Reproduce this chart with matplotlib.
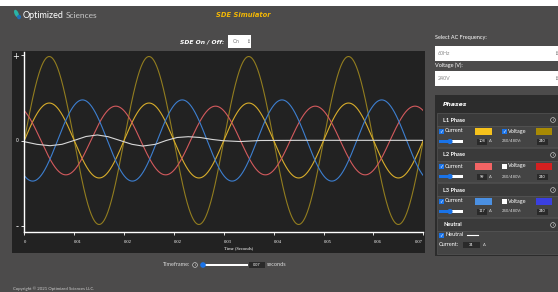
import numpy as np
import matplotlib.pyplot as plt
from matplotlib.patches import Rectangle, Circle, Ellipse

W, H = 558, 292

# waveform settings (60 Hz, peaks in A / V)
freq_hz = 60
series_names = ["L1 Voltage", "L1 Current", "L2 Current", "L3 Current"]
series_peaks = [242, 108, 99, 117]
series_phase_deg = [0, 0, -240, -120]
series_colors = ["#927d1f", "#d8ad2b", "#d35a5d", "#3d7fd0"]

# neutral trace, read point by point
neutral_t = [0.0, 0.0021, 0.0043, 0.0063, 0.0083, 0.0103, 0.0122, 0.0140, 0.0160,
             0.0180, 0.0198, 0.0219, 0.0237, 0.0255, 0.0274, 0.0294, 0.0314,
             0.0332, 0.0361, 0.0394, 0.0461, 0.0667]
neutral_v = [-3.5, -11, -15, -11, 0, 11.5, 16, 11, 0, -11, -16, -11, 0, 8.6, 11,
             8.6, 3, -0.6, -3, 0, 0.5, 0.5]

x_tick_labels = ["0", "0.01", "0.02", "0.02", "0.03", "0.04", "0.05", "0.06", "0.07"]
y_tick_labels = ["-", "0", "+"]
y_tick_vals = [-245, 0, 245]

# side panel values
phase_labels = ["L1 Phase", "L2 Phase", "L3 Phase"]
phase_currents = ["108", "99", "117"]
voltage_on = [True, False, False]
current_swatch = ["#f6c21c", "#f26464", "#4b90e2"]
voltage_swatch = ["#a88a04", "#d42020", "#3a3fe0"]
neutral_current = "34"

BG = "#4c4b4b"
BLUE = "#1a73e8"

fig = plt.figure(figsize=(W / 100, H / 100), dpi=100)
fig.patch.set_facecolor(BG)
ui = fig.add_axes([0, 0, 1, 1])
ui.set_xlim(0, W)
ui.set_ylim(H, 0)
ui.axis("off")


def box(x0, y0, x1, y1, color, ec="none", lw=0, z=1):
    ui.add_patch(Rectangle((x0, y0), x1 - x0, y1 - y0, facecolor=color,
                           edgecolor=ec, linewidth=lw, zorder=z))


def txt(x, y, s, size=4, color="white", ha="left", weight="normal",
        style="normal", family="Lato", z=5):
    ui.text(x, y, s, fontsize=size, color=color, ha=ha, va="center",
            fontweight=weight, fontstyle=style, family=[family, "DejaVu Sans"], zorder=z)


def checkbox(x, y, on):
    box(x, y - 2.5, x + 5, y + 2.5, BLUE if on else "white", z=3)
    if on:
        txt(x + 2.5, y, "\u2713", size=3.5, ha="center", family="DejaVu Sans")


def info(x, y):
    ui.add_patch(Circle((x, y), 2.4, facecolor="none", edgecolor="#dddddd",
                        linewidth=0.4, zorder=4))
    txt(x, y, "i", size=2.8, color="#dddddd", ha="center")


def valbox(x0, x1, y, s):
    box(x0, y - 3, x1, y + 3, "#2a2a2a", z=3)
    txt((x0 + x1) / 2, y, s, size=2.8, ha="center")


# header
box(0, 0, W, 6, "white")
ui.add_patch(Ellipse((16.5, 13.5), 4, 8, angle=-25, facecolor="#2ab3a6", zorder=3))
ui.add_patch(Ellipse((19, 17), 4, 4.5, facecolor="#1f6fb8", zorder=3))
txt(23, 15, "Optimized", size=6.5, color="white")
txt(65.5, 15, "Sciences", size=6.0, color="#c8c8c8")
txt(243, 15, "SDE Simulator", size=4.9, color="#f2b705", ha="center",
    weight="bold", style="italic", family="DejaVu Sans")
txt(224, 42, "SDE On / Off:", size=4.3, ha="right", weight="bold", style="italic",
    family="DejaVu Sans")
box(228, 35, 251, 48, "white")
txt(233, 41.5, "On", size=3.6, color="#777777")
txt(246, 41.5, "\u2195", size=3.4, color="#555555", family="DejaVu Sans")

# chart panel
box(12, 51, 425, 253, "#222222")

ax = fig.add_axes([24.3 / W, 1 - 232 / H, (423.3 - 24.3) / W, 180 / H])
ax.set_zorder(2)
ax.patch.set_alpha(0)
px_per_unit = 0.347
ax.set_xlim(0, 8 / 120)
ax.set_ylim(-(232 - 140.5) / px_per_unit, (140.5 - 52) / px_per_unit)

t = np.linspace(0, 8 / 120, 2000)
for name, peak, ph, col in zip(series_names, series_peaks, series_phase_deg, series_colors):
    y = peak * np.sin(2 * np.pi * freq_hz * t + np.deg2rad(ph))
    ax.plot(t, y, color=col, lw=0.8, label=name)
ax.plot(neutral_t, neutral_v, color="#d8d8d8", lw=0.8)

for s in ["top", "right"]:
    ax.spines[s].set_visible(False)
for s in ["left", "bottom"]:
    ax.spines[s].set_color("white")
    ax.spines[s].set_linewidth(1.0)

ax.set_xticks([k / 120 for k in range(len(x_tick_labels))])
ax.set_xticklabels(x_tick_labels, fontsize=3.3, family="Liberation Serif", color="white")
lbls = ax.get_xticklabels()
for lb in lbls[:-1]:
    lb.set_ha("left")
lbls[-1].set_ha("right")
ax.tick_params(axis="x", length=2.2, width=0.6, color="white", pad=3.5)
ax.text(4 / 120, -0.09, "Time (Seconds)", transform=ax.get_xaxis_transform(),
        fontsize=3.3, family="Liberation Serif", color="white", va="center")

ax.set_yticks(y_tick_vals)
ax.set_yticklabels(y_tick_labels, color="white", family="DejaVu Sans")
for lb, sz in zip(ax.get_yticklabels(), [6, 3.3, 6]):
    lb.set_fontsize(sz)
ax.tick_params(axis="y", length=2, width=0.6, color="white", pad=2)

# timeframe row
txt(190, 265, "Timeframe:", size=4.0, color="#dddddd", ha="right")
info(195, 265)
box(202, 263.8, 248, 266.2, "white", z=3)
ui.add_patch(Circle((203, 265), 2.8, facecolor=BLUE, zorder=4))
valbox(249, 265, 265, "0.07")
txt(267, 265, "seconds", size=4.0, color="#dddddd")

txt(13, 289, "Copyright \u00a9 2021 Optimized Sciences LLC.", size=3.1, color="#cccccc")

# right panel
txt(435, 38, "Select AC Frequency:", size=4.0)
box(435, 46, 560, 61, "white")
txt(438, 53.5, "60Hz", size=3.8, color="#888888")
txt(554, 53.5, "\u2195", size=3.4, color="#555555", family="DejaVu Sans")
txt(435, 65, "Voltage (V):", size=4.0)
box(435, 71, 560, 86, "white")
txt(438, 78.5, "240V", size=3.8, color="#888888")
txt(554, 78.5, "\u2195", size=3.4, color="#555555", family="DejaVu Sans")

box(435, 95, 560, 256, "#2c2c2c")
txt(443, 104, "Phases", size=4.4, weight="bold", style="italic", family="DejaVu Sans")

for i, label in enumerate(phase_labels):
    top = 113 + 35 * i
    box(437, top, 560, top + 13, "#3a3a3a", ec="#555555", lw=0.5, z=2)
    box(437, top + 13, 560, top + 34, "#444444", ec="#555555", lw=0.5, z=2)
    txt(443, top + 7, label, size=4.0, weight="bold")
    info(553, top + 7)
    r1, r2 = top + 18, top + 28.5
    checkbox(439, r1, True)
    txt(445, r1, "Current", size=4.0)
    box(475, r1 - 3.5, 492, r1 + 3.5, current_swatch[i], z=3)
    checkbox(502, r1, voltage_on[i])
    txt(508, r1, "Voltage", size=4.0)
    box(536, r1 - 3.5, 552, r1 + 3.5, voltage_swatch[i], z=3)
    box(439, r2 - 1.2, 463, r2 + 1.2, "white", z=3)
    box(439, r2 - 1.2, 450, r2 + 1.2, BLUE, z=3)
    ui.add_patch(Circle((450, r2), 2.6, facecolor=BLUE, zorder=4))
    valbox(477, 487, r2, phase_currents[i])
    txt(489, r2, "A", size=3.0, color="#dddddd")
    txt(502, r2, "240/480V:", size=3.0, color="#dddddd")
    valbox(537, 548, r2, "240")

top = 218
box(437, top, 560, top + 13, "#3a3a3a", ec="#555555", lw=0.5, z=2)
box(437, top + 13, 560, top + 36, "#444444", ec="#555555", lw=0.5, z=2)
txt(443, top + 7, "Neutral", size=4.0, weight="bold")
info(553, top + 7)
checkbox(439, 235, True)
txt(445, 235, "Neutral", size=4.0)
ui.plot([467, 478], [235, 235], color="white", lw=0.8, zorder=4)
txt(439, 245, "Current:", size=4.0)
valbox(463, 480, 245, neutral_current)
txt(483, 245, "A", size=3.0, color="#dddddd")

fig.savefig("out.png", dpi=100, facecolor=fig.get_facecolor())
